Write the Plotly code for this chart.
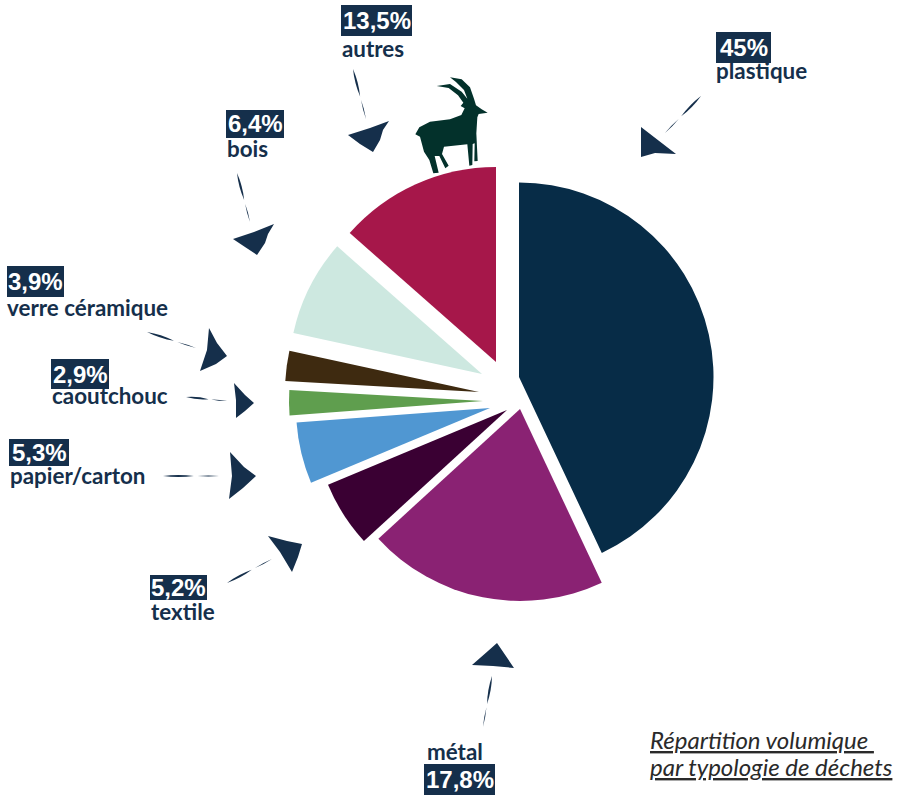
import plotly.graph_objects as go

W, H = 903, 795

# Slice shares as drawn in the picture (clockwise from 12 o'clock)
slice_names = ["plastique", "métal", "textile", "papier/carton", "caoutchouc", "verre céramique", "bois", "autres"]
slice_values = [43.0, 20.2, 5.5, 5.1, 2.1, 2.5, 8.1, 13.5]

# Printed labels
label_names = ["plastique", "métal", "textile", "papier/carton", "caoutchouc", "verre céramique", "bois", "autres"]
label_pcts = ["45%", "17,8%", "5,2%", "5,3%", "2,9%", "3,9%", "6,4%", "13,5%"]

# Style and layout
slice_colors = ["#072C47", "#8A2273", "#3A0033", "#5097D2", "#5F9E4E", "#3E2A10", "#CDE8E0", "#A6174A"]
slice_apex = [(519, 377), (520, 409), (507, 410), (490, 408), (483, 401), (479, 392), (482, 374), (496, 362)]
slice_radius = [194.5, 192, 194, 194, 194, 194, 193, 195]
NAVY = "#152F4B"
GOAT = "#03312B"
pct_boxes = [(716, 32, 771, 63), (424, 764, 495, 795), (150, 575, 207, 600), (9, 439, 69, 466),
             (51, 359, 109, 389), (7, 266, 64, 297), (226, 110, 284, 138), (341, 5, 412, 36)]
name_pos = [(715, 71), (426, 751), (150, 611), (9, 475), (51, 395), (6, 307), (226, 149), (341, 49)]
heads = [
    [(641, 127), (676, 154), (655, 153), (641, 157)],
    [(497, 643), (514, 668), (493, 666), (472, 665), (488, 651)],
    [(268, 536), (287, 541), (302, 544), (298, 557), (292, 572), (280, 552)],
    [(230, 452), (244, 467), (256, 476), (243, 488), (229, 499), (232, 476)],
    [(234, 383), (245, 395), (254, 403), (245, 411), (236, 418), (236, 400)],
    [(209, 328), (217, 343), (227, 356), (216, 364), (200, 371), (207, 350)],
    [(274, 224), (268, 234), (265, 243), (257, 255), (245, 247), (233, 239), (254, 232)],
    [(389, 121), (383, 130), (380, 140), (373, 152), (360, 144), (348, 135), (370, 128)],
]
tails = [
    (701, 96, 665, 133), (492, 676, 483, 727), (227, 583, 272, 559), (163, 476, 219, 476),
    (186, 397, 227, 401), (147, 332, 196, 348), (237, 173, 250, 222), (353, 69, 366, 119),
]
goat_zoom = [
    (473, 338), (455, 328), (438, 316), (432, 296), (420, 262), (395, 238), (360, 232), (378, 246), (402, 270),
    (412, 296), (395, 275), (360, 252), (320, 258), (356, 264), (384, 286), (400, 308), (392, 318), (404, 325),
    (394, 345), (360, 358), (300, 365), (268, 382), (256, 403), (270, 410), (282, 455), (298, 480), (310, 520),
    (326, 518), (314, 468), (328, 468), (346, 505), (356, 497), (336, 462), (342, 440), (412, 433), (418, 497),
    (427, 495), (428, 432), (434, 430), (433, 484), (443, 483), (439, 400), (442, 352), (446, 342),
]


def X(x):
    return x / W


def Y(y):
    return 1 - y / H


def P(x, y):
    return f"{X(x):.5f},{Y(y):.5f}"


def poly(points):
    return "M" + " L".join(P(x, y) for x, y in points) + " Z"


def lens(x0, y0, x1, y1, w):
    mx, my = (x0 + x1) / 2, (y0 + y1) / 2
    dx, dy = x1 - x0, y1 - y0
    n = (dx * dx + dy * dy) ** 0.5
    nx, ny = -dy / n * w, dx / n * w
    return f"M{P(x0, y0)} Q{P(mx + nx, my + ny)} {P(x1, y1)} Q{P(mx - nx, my - ny)} {P(x0, y0)} Z"


fig = go.Figure()
total = sum(slice_values)
cum = 0.0
for name, v, col, (ax, ay), r in zip(slice_names, slice_values, slice_colors, slice_apex, slice_radius):
    fig.add_trace(go.Pie(
        labels=[name, ""], values=[v, total - v], sort=False, direction="clockwise",
        rotation=cum / total * 360, textinfo="none", hoverinfo="label", showlegend=False,
        marker=dict(colors=[col, "rgba(0,0,0,0)"], line=dict(width=0)),
        domain=dict(x=[X(ax - r), X(ax + r)], y=[Y(ay + r), Y(ay - r)]),
    ))
    cum += v

shapes = []
annotations = []
for (x0, y0, x1, y1), pct in zip(pct_boxes, label_pcts):
    shapes.append(dict(type="rect", xref="paper", yref="paper", x0=X(x0), x1=X(x1), y0=Y(y0), y1=Y(y1),
                       fillcolor=NAVY, line=dict(width=0), layer="below"))
    annotations.append(dict(text=f"<b>{pct}</b>", xref="paper", yref="paper", x=X((x0 + x1) / 2), y=Y((y0 + y1) / 2),
                            xanchor="center", yanchor="middle", showarrow=False, borderpad=0,
                            font=dict(family="Liberation Sans", size=24, color="white")))
for (x, y), name in zip(name_pos, label_names):
    annotations.append(dict(text=f"<b>{name}</b>", xref="paper", yref="paper", x=X(x), y=Y(y),
                            xanchor="left", yanchor="middle", showarrow=False, borderpad=0,
                            font=dict(family="Lato", size=22.4, color=NAVY)))
for pts in heads:
    shapes.append(dict(type="path", xref="paper", yref="paper", path=poly(pts), fillcolor=NAVY, line=dict(width=0)))
for x0, y0, x1, y1 in tails:
    fx, fy = x0 + (x1 - x0) * 0.55, y0 + (y1 - y0) * 0.55
    gx, gy = x0 + (x1 - x0) * 0.62, y0 + (y1 - y0) * 0.62
    shapes.append(dict(type="path", xref="paper", yref="paper", path=lens(x0, y0, fx, fy, 2.2),
                       fillcolor=NAVY, line=dict(width=0)))
    shapes.append(dict(type="path", xref="paper", yref="paper", path=lens(gx, gy, x1, y1, 0.9),
                       fillcolor=NAVY, line=dict(width=0)))
shapes.append(dict(type="path", xref="paper", yref="paper",
                   path=poly([(330 + x / 3, y / 3) for x, y in goat_zoom]), fillcolor=GOAT, line=dict(width=0)))

for text, y in [("<i><u>Répartition volumique\u00a0</u></i>", 739), ("<i><u>par typologie de déchets</u></i>", 766)]:
    annotations.append(dict(text=text, xref="paper", yref="paper", x=X(649), y=Y(y), xanchor="left", yanchor="middle",
                            showarrow=False, borderpad=0, font=dict(family="Lato", size=24, color="#2A2A2A")))

fig.update_layout(width=W, height=H, margin=dict(l=0, r=0, t=0, b=0), paper_bgcolor="white",
                  showlegend=False, shapes=shapes, annotations=annotations)
fig.write_html("out.html", config=dict(displayModeBar=False),
               post_script="document.body.style.margin='0';document.body.style.overflow='hidden';")
